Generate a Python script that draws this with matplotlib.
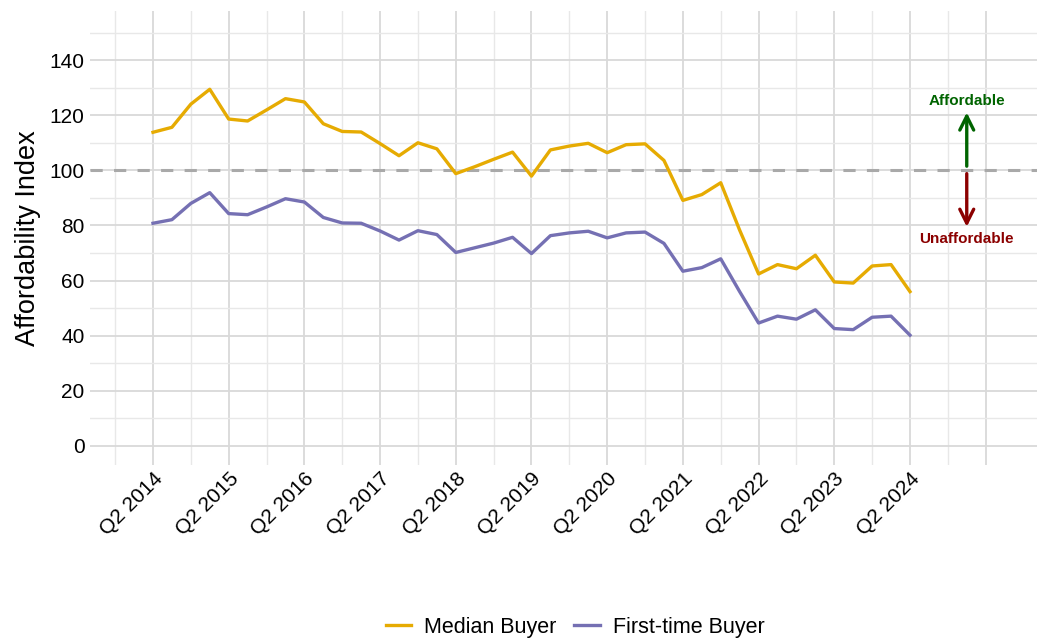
import numpy as np
import matplotlib
matplotlib.use("Agg")
import matplotlib.pyplot as plt

plt.rcParams['font.family'] = ['Liberation Sans', 'DejaVu Sans']

# quarterly values, Q2 2014 .. Q2 2024
median_buyer = [113.8, 115.6, 124.0, 129.4, 118.6, 117.9, 121.9, 126.0, 124.8, 116.9,
                114.1, 113.9, 109.7, 105.3, 110.0, 107.8, 98.8, 101.3, 104.0, 106.6,
                97.9, 107.4, 108.8, 109.8, 106.4, 109.3, 109.6, 103.6, 89.1, 91.2,
                95.5, 78.3, 62.4, 65.8, 64.3, 69.2, 59.5, 59.1, 65.3, 65.8, 56.0]
first_time_buyer = [80.8, 82.1, 88.0, 91.9, 84.3, 83.9, 86.7, 89.7, 88.5, 82.9,
                    80.9, 80.8, 78.0, 74.7, 78.1, 76.7, 70.2, 71.9, 73.6, 75.7,
                    69.8, 76.3, 77.3, 77.9, 75.5, 77.3, 77.6, 73.5, 63.4, 64.7,
                    67.9, 56.0, 44.6, 47.1, 46.0, 49.4, 42.6, 42.2, 46.7, 47.1, 40.2]
years = list(range(2014, 2025))
tick_labels = [f"Q2 {y}" for y in years]

# x in years since Q2 2014
x = np.arange(len(median_buyer)) / 4.0

fig = plt.figure(figsize=(10.37, 6.39), dpi=100)
ax = fig.add_axes([90 / 1037, 1 - 465 / 639, 1 - 90 / 1037, (465 - 11) / 639])

# grid
for v in np.arange(-0.5, 11.01, 0.5):
    major = abs(v - round(v)) < 1e-9
    ax.axvline(v, color="#d9d9d9" if major else "#e8e8e8", lw=1.3 if major else 1.0, zorder=0)
for v in range(0, 151, 10):
    major = v % 20 == 0
    ax.axhline(v, color="#d9d9d9" if major else "#e8e8e8", lw=1.3 if major else 1.0, zorder=0)

ax.axhline(100, color="#a9a9a9", lw=2.2, ls=(0, (4, 3.7)), zorder=1)

ax.plot(x, median_buyer, color="#E6AB02", lw=2.4, label="Median Buyer", zorder=3)
ax.plot(x, first_time_buyer, color="#7570B3", lw=2.4, label="First-time Buyer", zorder=3)

# affordability arrows at Q1 2025
ax_x = 10.75
ax.annotate("", xy=(ax_x, 121), xytext=(ax_x, 101.5),
            arrowprops=dict(arrowstyle="->", color="#006400", lw=2.4, mutation_scale=25,
                            shrinkA=0, shrinkB=0))
ax.annotate("", xy=(ax_x, 79.5), xytext=(ax_x, 98.8),
            arrowprops=dict(arrowstyle="->", color="#8B0000", lw=2.4, mutation_scale=25,
                            shrinkA=0, shrinkB=0))
ax.text(ax_x, 125, "Affordable", color="#006400", fontsize=11, fontweight="bold",
        ha="center", va="center")
ax.text(ax_x, 75, "Unaffordable", color="#8B0000", fontsize=11, fontweight="bold",
        ha="center", va="center")

ax.set_xlim(-0.832, 11.678)
ax.set_ylim(-6.9, 157.8)
ax.set_xticks(range(len(years)))
ax.set_xticklabels(tick_labels, rotation=45, ha="right", va="top", rotation_mode="anchor",
                   fontsize=15)
ax.set_yticks(range(0, 141, 20))
ax.tick_params(axis="y", labelsize=15, length=0, pad=4)
ax.tick_params(axis="x", length=0, pad=3)
ax.set_ylabel("Affordability Index", fontsize=19.5, labelpad=6)
for s in ax.spines.values():
    s.set_visible(False)

fig.legend(loc="center", bbox_to_anchor=(575 / 1037, 1 - 627 / 639), ncol=2, frameon=False,
           fontsize=15.5, handlelength=1.2, columnspacing=0.8, handletextpad=0.6)

fig.savefig("out.png", dpi=100)
